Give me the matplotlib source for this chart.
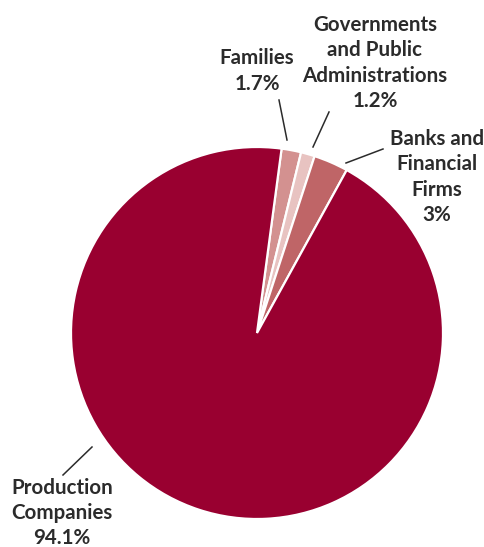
import matplotlib.pyplot as plt

plt.rcParams['font.family'] = ['Lato', 'DejaVu Sans']

# share of total by sector
sectors = ['Families', 'Governments\nand Public\nAdministrations',
           'Banks and\nFinancial\nFirms', 'Production\nCompanies']
shares = [1.7, 1.2, 3.0, 94.1]
colors = ['#d39190', '#e8c3c1', '#bf6567', '#990030']

W, H = 485, 547
fig = plt.figure(figsize=(W / 100, H / 100), dpi=100)
ax = fig.add_axes([0, 0, 1, 1])

cx, cy, r = 257, H - 333, 186
ax.pie(shares, colors=colors, startangle=82.4, counterclock=False,
       center=(cx, cy), radius=r,
       wedgeprops=dict(edgecolor='white', linewidth=1.6))

ax.set_xlim(0, W)
ax.set_ylim(0, H)
ax.set_aspect('equal')
ax.axis('off')

# label text centre, leader line (outer end, inner end), all in pixels from top-left
label_pos = [(257, 71), (375, 63), (437, 177), (62, 513)]
leaders = [((279, 100), (287, 140)),
           ((329, 112), (313, 147)),
           ((383, 149), (346, 163)),
           ((63, 475), (92, 447))]

ink = '#2b2b2b'
for name, val, (tx, ty), (p0, p1) in zip(sectors, shares, label_pos, leaders):
    pct = f'{val:g}%'
    ax.text(tx, H - ty, f'{name}\n{pct}', ha='center', va='center',
            fontsize=14.8, fontweight='bold', color=ink, linespacing=1.32)
    ax.plot([p0[0], p1[0]], [H - p0[1], H - p1[1]], color=ink, lw=1.1)

fig.savefig('out.png', dpi=100)
